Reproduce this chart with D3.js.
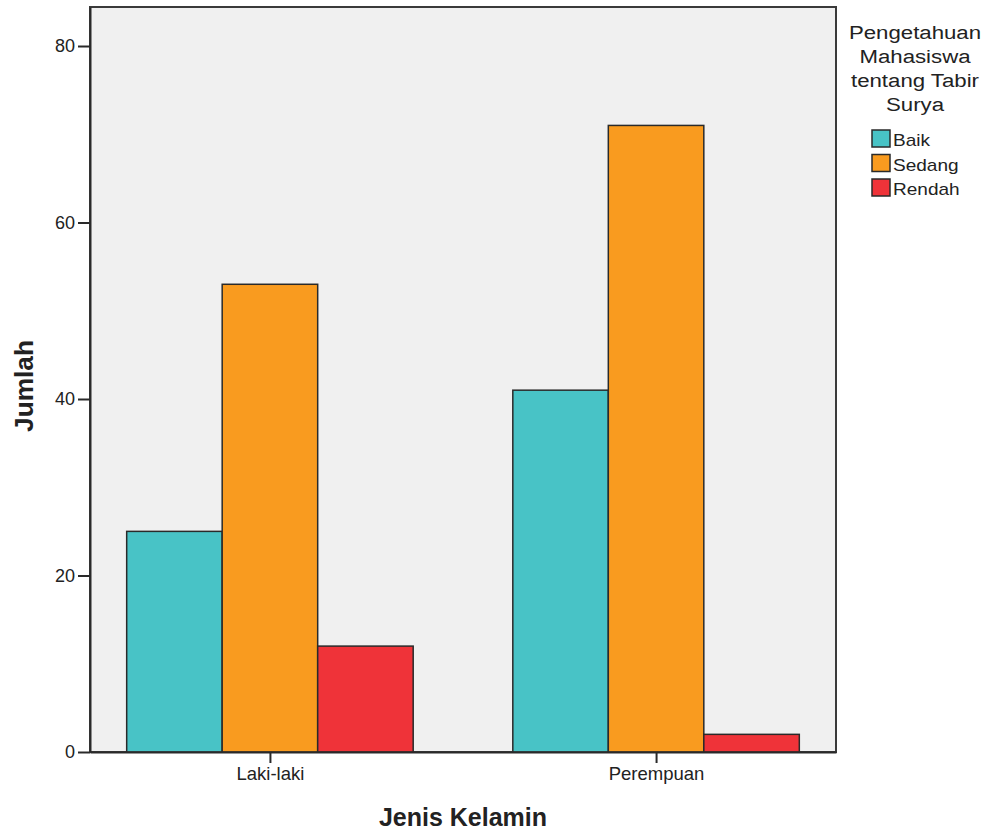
<!DOCTYPE html>
<html><head><meta charset="utf-8">
<script src="https://cdn.jsdelivr.net/npm/d3@7"></script>
<style>body{margin:0;background:#fff}svg{display:block}</style>
</head><body>
<script>
const categories = ["Laki-laki", "Perempuan"];
const seriesNames = ["Baik", "Sedang", "Rendah"];
const baik = [25, 41];
const sedang = [53, 71];
const rendah = [12, 2];
const yTicks = [0, 20, 40, 60, 80];
const legendTitle = ["Pengetahuan", "Mahasiswa", "tentang Tabir", "Surya"];
const colors = ["#48C3C6", "#F99B1F", "#EF3339"];

const W = 992, H = 833;
const L = 90, R = 836, T = 7, B = 752;
const svg = d3.select("body").append("svg").attr("width", W).attr("height", H);
const font = "Arial, 'Liberation Sans', sans-serif";

const x = d3.scalePoint().domain(categories).range([L, R]).padding(0.466);
const y = d3.scaleLinear().domain([0, 84.42]).range([B, T]);
const barW = 95.5;
const sub = d3.scaleBand().domain(seriesNames).range([-barW * 1.5, barW * 1.5]);

svg.append("rect").attr("x", L).attr("y", T).attr("width", R - L).attr("height", B - T)
  .attr("fill", "#F0F0F0").attr("stroke", "#3a3a3a").attr("stroke-width", 2);

const data = [baik, sedang, rendah];
seriesNames.forEach((s, si) => {
  svg.append("g").selectAll("rect").data(categories).join("rect")
    .attr("x", c => x(c) + sub(s))
    .attr("y", (c, i) => y(data[si][i]))
    .attr("width", sub.bandwidth())
    .attr("height", (c, i) => y(0) - y(data[si][i]))
    .attr("fill", colors[si]).attr("stroke", "#2a2a2a").attr("stroke-width", 1.5);
});

// axes
const ya = svg.append("g").attr("transform", `translate(${L},0)`)
  .call(d3.axisLeft(y).tickValues(yTicks).tickSize(12).tickSizeOuter(0).tickPadding(3));
ya.select(".domain").attr("stroke", "#2a2a2a").attr("stroke-width", 2);
ya.selectAll(".tick line").attr("stroke", "#2a2a2a").attr("stroke-width", 2);
ya.selectAll("text").attr("font-family", font).attr("font-size", 18).attr("fill", "#222");

const xa = svg.append("g").attr("transform", `translate(0,${B})`)
  .call(d3.axisBottom(x).tickSize(11).tickSizeOuter(0).tickPadding(4));
xa.select(".domain").attr("stroke", "#2a2a2a").attr("stroke-width", 2);
xa.selectAll(".tick line").attr("stroke", "#2a2a2a").attr("stroke-width", 2);
xa.selectAll("text").attr("font-family", font).attr("font-size", 18.5).attr("fill", "#222");

svg.append("text").attr("x", 463).attr("y", 826).attr("text-anchor", "middle")
  .attr("font-family", font).attr("font-size", 25).attr("font-weight", "bold").attr("fill", "#222")
  .text("Jenis Kelamin");
svg.append("text").attr("transform", `translate(33,386) rotate(-90) scale(1.05,1)`).attr("text-anchor", "middle")
  .attr("font-family", font).attr("font-size", 25).attr("font-weight", "bold").attr("fill", "#222")
  .text("Jumlah");

// legend
const lg = svg.append("g");
legendTitle.forEach((t, i) => {
  lg.append("text").attr("transform", `translate(915,${39 + i * 24}) scale(1.17,1)`).attr("text-anchor", "middle")
    .attr("font-family", font).attr("font-size", 19).attr("fill", "#222").text(t);
});
seriesNames.forEach((s, i) => {
  lg.append("rect").attr("x", 872).attr("y", 130 + i * 24.5).attr("width", 18).attr("height", 17)
    .attr("fill", colors[i]).attr("stroke", "#2a2a2a").attr("stroke-width", 1.5);
  lg.append("text").attr("transform", `translate(893,${146 + i * 24.5}) scale(1.12,1)`)
    .attr("font-family", font).attr("font-size", 17).attr("fill", "#222").text(s);
});
</script>
</body></html>
